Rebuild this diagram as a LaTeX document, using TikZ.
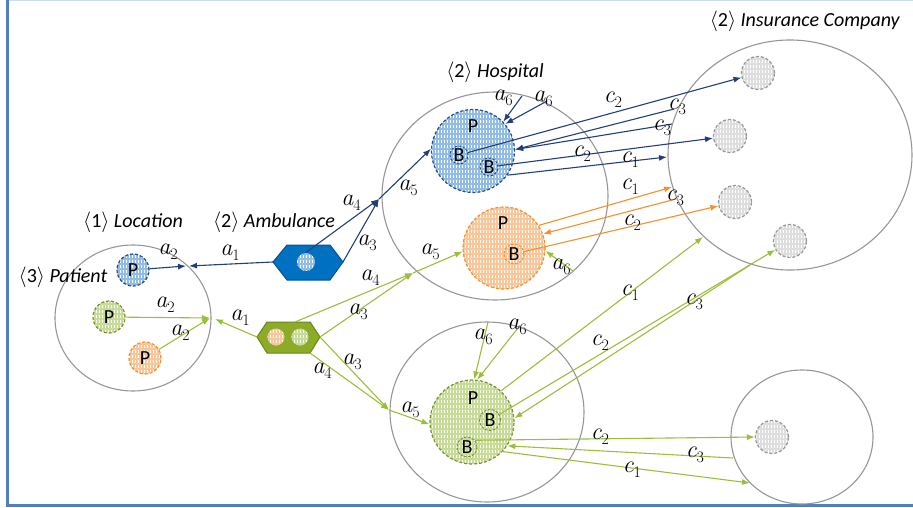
\documentclass[tikz,border=0pt]{standalone}
\usepackage{fontspec}
\setmainfont{Carlito}
\usetikzlibrary{arrows.meta,shapes.geometric,patterns}
\definecolor{navy}{RGB}{36,62,122}
\definecolor{bluedash}{RGB}{40,75,140}
\definecolor{bluefill}{RGB}{145,188,230}
\definecolor{ambfill}{RGB}{0,112,192}
\definecolor{ambedge}{RGB}{0,84,150}
\definecolor{grn}{RGB}{155,190,60}
\definecolor{grnfill}{RGB}{198,220,150}
\definecolor{grndash}{RGB}{120,145,55}
\definecolor{hexg}{RGB}{140,172,40}
\definecolor{hexgedge}{RGB}{105,135,30}
\definecolor{org}{RGB}{245,145,45}
\definecolor{orgfill}{RGB}{248,198,152}
\definecolor{gry}{RGB}{150,150,150}
\definecolor{gryfill}{RGB}{222,222,222}
\definecolor{frameblue}{RGB}{79,129,189}
\definecolor{framelight}{RGB}{205,222,240}
\newcommand{\lab}[2]{{\fontfamily{lmr}\fontsize{24}{26}\selectfont\itshape #1}\raisebox{-0.5ex}{\fontfamily{lmr}\fontsize{16}{18}\selectfont #2}}
\begin{document}
\begin{tikzpicture}[x=1pt,y=-1pt,
  txt/.style={font=\fontsize{20}{24}\selectfont, inner sep=0pt},
  region/.style={ellipse, draw=gry, line width=1.1pt, inner sep=0pt},
  hcirc/.style={circle, inner sep=0pt, preaction={fill=#1}, pattern=vertical lines, pattern color=white, dash pattern=on 3pt off 2pt, line width=1.2pt, txt},
  bluec/.style={hcirc=bluefill, draw=bluedash},
  greenc/.style={hcirc=grnfill, draw=grndash},
  orangec/.style={hcirc=orgfill, draw=org},
  grayc/.style={hcirc=gryfill, draw=gry, minimum size=33pt},
  bsmall/.style={circle, inner sep=0pt, draw=#1, dash pattern=on 2.5pt off 1.5pt, line width=0.9pt, txt},
  conn/.style={-{Latex[length=8pt,width=6pt]}, line width=1.1pt},
  barr/.style={conn, draw=navy},
  oarr/.style={conn, draw=org},
  garr/.style={conn, draw=grn},
]
\useasboundingbox (0,0) rectangle (913,508);
% frame
\draw[framelight, line width=1.5pt] (7.5,0.75) -- (913,0.75);
\draw[frameblue, line width=2.5pt] (7.5,0) -- (7.5,505.5) -- (913,505.5);

% regions
\node[region, minimum width=156pt, minimum height=146pt] (loc) at (133,318) {};
\node[region, minimum width=226pt, minimum height=208pt] (hosp) at (495,196) {};
\node[region, minimum width=244pt, minimum height=230pt] (ins) at (790,155) {};
\node[region, minimum width=194pt, minimum height=180pt] (hosp2) at (487,412) {};
\node[region, minimum width=142pt, minimum height=134pt] (brc) at (802,437) {};

% region labels
\node[txt] (tloc) at (133,222) {$\langle$1$\rangle$ \textit{Location}};
\node[txt] (tamb) at (274,222) {$\langle$2$\rangle$ \textit{Ambulance}};
\node[txt] (tpat) at (63,277) {$\langle$3$\rangle$ \textit{Patient}};
\node[txt] (thos) at (495,72) {$\langle$2$\rangle$ \textit{Hospital}};
\node[txt] (tins) at (805,21) {$\langle$2$\rangle$ \textit{Insurance Company}};

% patients at location
\node[bluec, minimum size=32pt] (bP) at (133,270) {P};
\node[greenc, minimum size=32pt] (gP) at (109,317) {P};
\node[orangec, minimum size=32pt] (oPp) at (145,358) {P};

% ambulance hexagon
\coordinate (al) at (273,262);
\coordinate (atl) at (287,245);
\coordinate (atr) at (330,245);
\coordinate (ar) at (343,262);
\coordinate (abr) at (330,280);
\coordinate (abl) at (287,280);
\draw[fill=ambfill, draw=ambedge, line width=1pt] (al) -- (atl) -- (atr) -- (ar) -- (abr) -- (abl) -- cycle;
\node[hcirc=bluefill, minimum size=18pt] (ambc) at (306,262) {};

% green hexagon
\coordinate (gl) at (257,337);
\coordinate (gtl) at (267,322);
\coordinate (gtr) at (310,322);
\coordinate (gr) at (320,337);
\coordinate (gbr) at (310,353);
\coordinate (gbl) at (267,353);
\coordinate (gtop) at (295,322);
\draw[fill=hexg, draw=hexgedge, line width=1pt] (gl) -- (gtl) -- (gtr) -- (gr) -- (gbr) -- (gbl) -- cycle;
\node[hcirc=orgfill, minimum size=17pt] (gho) at (276,337) {};
\node[hcirc=grnfill, minimum size=17pt] (ghg) at (300,337) {};

% hospital patients
\node[bluec, minimum size=83pt] (bP2) at (473,151) {};
\node[txt] (bP2t) at (473,126) {P};
\node[bsmall=bluedash, minimum size=18pt] (bB1) at (459,155) {B};
\node[bsmall=bluedash, minimum size=18pt] (bB2) at (489,167) {B};
\node[orangec, minimum size=82pt] (oP) at (504,248) {};
\node[txt] (oPt) at (503,223) {P};
\node[bsmall=org, minimum size=20pt] (oB) at (514,254) {B};
\node[greenc, minimum size=84pt] (gP2) at (472,422) {};
\node[txt] (gP2t) at (473,398) {P};
\node[bsmall=grndash, minimum size=21pt] (gB1) at (490,420) {B};
\node[bsmall=grndash, minimum size=20pt] (gB2) at (467,447) {B};

% insurance entities
\node[grayc] (I1) at (758,73) {};
\node[grayc] (I2) at (730,136) {};
\node[grayc] (I3) at (735,202) {};
\node[grayc] (I4) at (790,241) {};
\node[grayc] (brs) at (772,437) {};

% ---- blue connectors
\coordinate (la2b) at (186,266);
\coordinate (la1b) at (189,266);
\coordinate (hb) at (379,199);
\draw[barr] (bP) -- (la2b);
\draw[barr] (al) -- (la1b);
\draw[barr] (ambc.north) -- (hb);
\draw[barr] (ar) -- (hb);
\draw[barr] (hb) -- (bP2.177);
\coordinate (a6b1) at (522,96);
\coordinate (a6b2) at (547,101);
\draw[barr] (a6b1) -- (bP2.44);
\draw[barr] (a6b2) -- (bP2.40);
\draw[barr] (bB1) -- (I1);
\coordinate (c3b1) at (674,109);
\coordinate (c3b2) at (672,124);
\draw[barr] (c3b1) -- (bP2.2);
\draw[barr] (c3b2) -- (bP2.2);
\draw[barr] (bB2) -- (I2);
\coordinate (c1b) at (667,157);
\draw[barr] (bP2.-35) -- (c1b);

% ---- orange connectors
\coordinate (c1o) at (672,187);
\coordinate (c3o) at (676,199);
\draw[oarr] (oP.33) -- (c1o);
\draw[oarr] (c3o) -- (oP.20);
\draw[oarr] (oB) -- (I3);

% ---- green connectors
\coordinate (la2g) at (210,318);
\coordinate (la1g) at (215,319);
\draw[garr] (gP) -- (la2g);
\draw[garr] (oPp) -- (la2g);
\draw[garr] (gl) -- (la1g);
\coordinate (hg) at (413,273);
\draw[garr] (gtop) -- (hg);
\draw[garr] (gr) -- (hg);
\draw[garr] (hg) -- (oP.185);
\coordinate (hg2) at (389,410);
\draw[garr] (gr) -- (hg2);
\draw[garr] (gbr) -- (hg2);
\draw[garr] (hg2) -- (gP2.183);
\coordinate (a6g1) at (488,322);
\coordinate (a6g2) at (518,328);
\draw[garr] (a6g1) -- (gP2.87);
\draw[garr] (a6g2) -- (gP2.83);
\coordinate (a6o) at (573,271);
\draw[garr] (a6o) -- (oP.-4);
\coordinate (c1g) at (703,237);
\draw[garr] (gP2.47) -- (c1g);
\draw[garr] (gB1) -- (I4);
\coordinate (c3g) at (750,265);
\draw[garr] (c3g) -- (gP2.5);
\draw[garr] (gB2.40) -- (brs.west);
\coordinate (c3g2) at (733,458);
\draw[garr] (c3g2) -- (gP2.-34);
\coordinate (c1g2) at (750,483);
\draw[garr] (gP2.-44) -- (c1g2);

% ---- labels
\node[txt] (l1) at (168,252) {\lab{a}{2}};
\node[txt] (l2) at (230,253) {\lab{a}{1}};
\node[txt] (l3) at (351,203) {\lab{a}{4}};
\node[txt] (l4) at (367,243) {\lab{a}{3}};
\node[txt] (l5) at (408,188) {\lab{a}{5}};
\node[txt] (l6) at (503,98) {\lab{a}{6}};
\node[txt] (l7) at (543,99) {\lab{a}{6}};
\node[txt] (l8) at (613,100) {\lab{c}{2}};
\node[txt] (l9) at (677,107) {\lab{c}{3}};
\node[txt] (l10) at (662,128) {\lab{c}{3}};
\node[txt] (l11) at (582,154) {\lab{c}{2}};
\node[txt] (l12) at (630,160) {\lab{c}{1}};
\node[txt] (l13) at (630,187) {\lab{c}{1}};
\node[txt] (l14) at (675,198) {\lab{c}{3}};
\node[txt] (l15) at (632,223) {\lab{c}{2}};
\node[txt] (l16) at (561,267) {\lab{a}{6}};
\node[txt] (l17) at (165,305) {\lab{a}{2}};
\node[txt] (l18) at (180,333) {\lab{a}{2}};
\node[txt] (l19) at (240,318) {\lab{a}{1}};
\node[txt] (l20) at (370,278) {\lab{a}{4}};
\node[txt] (l21) at (358,312) {\lab{a}{3}};
\node[txt] (l22) at (430,252) {\lab{a}{5}};
\node[txt] (l23) at (352,362) {\lab{a}{3}};
\node[txt] (l24) at (322,371) {\lab{a}{4}};
\node[txt] (l25) at (410,410) {\lab{a}{5}};
\node[txt] (l26) at (483,337) {\lab{a}{6}};
\node[txt] (l27) at (517,327) {\lab{a}{6}};
\node[txt] (l28) at (630,293) {\lab{c}{1}};
\node[txt] (l29) at (600,343) {\lab{c}{2}};
\node[txt] (l30) at (694,302) {\lab{c}{3}};
\node[txt] (l31) at (600,437) {\lab{c}{2}};
\node[txt] (l32) at (695,455) {\lab{c}{3}};
\node[txt] (l33) at (632,470) {\lab{c}{1}};
\end{tikzpicture}
\end{document}
